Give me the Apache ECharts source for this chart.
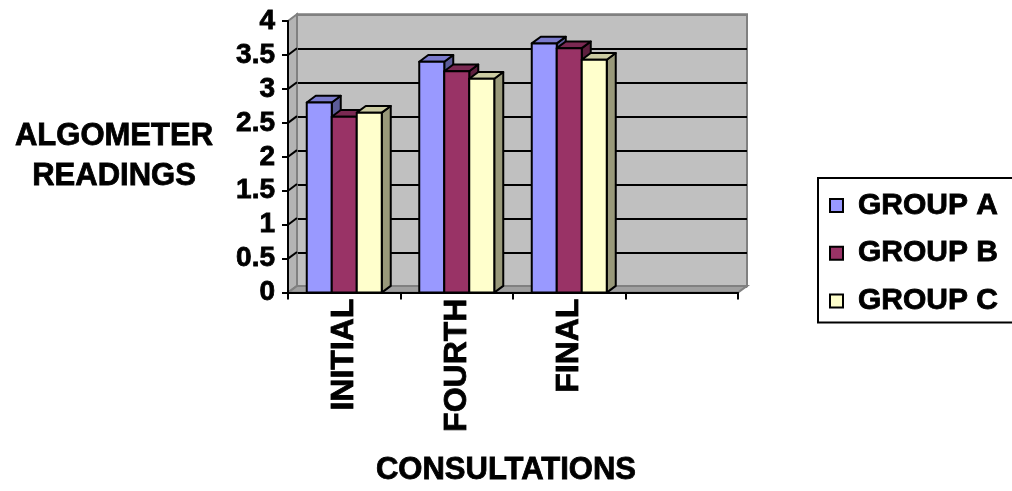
<!DOCTYPE html>
<html>
<head>
<meta charset="utf-8">
<script src="https://cdn.jsdelivr.net/npm/echarts@6/dist/echarts.min.js"></script>
<style>
  html, body { margin: 0; padding: 0; background: #ffffff; }
  #chart { width: 1012px; height: 491px; }
</style>
</head>
<body>
<div id="chart"></div>
<script>
// Consultation stages (the fourth slot on the axis is left empty)
const categories = ['INITIAL', 'FOURTH', 'FINAL', ''];
const seriesNames = ['GROUP A', 'GROUP B', 'GROUP C'];
const groupA = [2.80, 3.40, 3.67];
const groupB = [2.59, 3.26, 3.60];
const groupC = [2.65, 3.15, 3.43];
const yMin = 0;
const yMax = 4;
const yStep = 0.5;

const FONT = "'Liberation Sans', Arial, sans-serif";
const DX = 9, DY = -6.7;           // depth offset of the pseudo-3D walls and bars
const BAR_FRAC = 2 / 9;            // bar width as a share of the category band

// heavy black lettering used by every text element
const heavy = { fontWeight: 'bold', fontFamily: FONT, color: '#000',
  textBorderColor: '#000', textBorderWidth: 0.8 };

const faceColors = [
  { front: '#9999FF', top: '#7A7ACC', side: '#5C5C99' },
  { front: '#993366', top: '#7A2952', side: '#5C1F3D' },
  { front: '#FFFFCC', top: '#CCCCA3', side: '#99997A' }
];

function barRenderer(idx) {
  return function (params, api) {
    const c = api.value(0), v = api.value(1);
    const base = api.coord([c, 0]);
    const top = api.coord([c, v]);
    const band = api.size([1, 0])[0];
    const w = band * BAR_FRAC;
    const x0 = base[0] - 1.5 * w + idx * w;
    const x1 = x0 + w;
    const yT = top[1], yB = base[1];
    const col = faceColors[idx];
    const stroke = { stroke: '#000', lineWidth: 2, lineJoin: 'round' };
    return {
      type: 'group',
      children: [
        { type: 'polygon', shape: { points: [[x1, yT], [x1 + DX, yT + DY], [x1 + DX, yB + DY], [x1, yB]] },
          style: Object.assign({ fill: col.side }, stroke) },
        { type: 'polygon', shape: { points: [[x0, yT], [x0 + DX, yT + DY], [x1 + DX, yT + DY], [x1, yT]] },
          style: Object.assign({ fill: col.top }, stroke) },
        { type: 'rect', shape: { x: x0, y: yT, width: w, height: yB - yT },
          style: Object.assign({ fill: col.front }, stroke) }
      ]
    };
  };
}

// Side wall and floor joining the front axes to the back wall
function wallRenderer(params, api) {
  const cs = params.coordSys;
  const xL = cs.x, xR = cs.x + cs.width;
  const y0 = api.coord([0, yMin])[1];
  const y4 = api.coord([0, yMax])[1];
  const edge = { stroke: '#808080', lineWidth: 2 };
  const children = [
    { type: 'polygon', shape: { points: [[xL, y0], [xL, y4], [xL + DX, y4 + DY], [xL + DX, y0 + DY]] },
      style: Object.assign({ fill: '#B4B4B4' }, edge) },
    { type: 'polygon', shape: { points: [[xL, y0], [xR, y0], [xR + DX, y0 + DY], [xL + DX, y0 + DY]] },
      style: Object.assign({ fill: '#A0A0A0' }, edge) }
  ];
  for (let v = yMin + yStep; v < yMax - 1e-9; v += yStep) {
    const y = api.coord([0, v])[1];
    children.push({ type: 'line', shape: { x1: xL, y1: y, x2: xL + DX, y2: y + DY },
      style: { stroke: '#000', lineWidth: 2 } });
  }
  return { type: 'group', children: children };
}

const groups = [groupA, groupB, groupC];
const barSeries = groups.map((vals, i) => ({
  name: seriesNames[i],
  type: 'custom',
  xAxisIndex: 0,
  yAxisIndex: 0,
  z: 3,
  itemStyle: { color: faceColors[i].front },
  renderItem: barRenderer(i),
  data: vals.map((v, k) => [k, v])
}));

const backSplitColors = [];
for (let v = yMin; v <= yMax + 1e-9; v += yStep) {
  backSplitColors.push((v === yMin || Math.abs(v - yMax) < 1e-9) ? '#808080' : '#000000');
}

const option = {
  animation: false,
  color: faceColors.map(c => c.front),
  textStyle: { fontFamily: FONT, fontWeight: 'bold', color: '#000' },
  grid: [
    { left: 288, top: 21, width: 450, height: 272 },
    { left: 288 + DX, top: 21 + DY, width: 450, height: 272, show: true,
      backgroundColor: '#C0C0C0', borderColor: '#808080', borderWidth: 2 }
  ],
  xAxis: [
    {
      type: 'category', gridIndex: 0, data: categories, z: 10,
      boundaryGap: true,
      axisLine: { lineStyle: { color: '#000', width: 2 } },
      axisTick: { show: true, length: 7, lineStyle: { color: '#000', width: 2 } },
      axisLabel: Object.assign({ rotate: 90, margin: 6, interval: 0, fontSize: 32 }, heavy),
      name: 'CONSULTATIONS', nameLocation: 'middle', nameGap: 162,
      nameTextStyle: Object.assign({ fontSize: 31, padding: [0, 14, 0, 0] }, heavy)
    },
    { type: 'category', gridIndex: 1, data: categories, show: false }
  ],
  yAxis: [
    {
      type: 'value', gridIndex: 0, min: yMin, max: yMax, interval: yStep, z: 10,
      axisLine: { show: true, lineStyle: { color: '#000', width: 2 } },
      axisTick: { show: true, length: 6, lineStyle: { color: '#000', width: 2 } },
      splitLine: { show: false },
      axisLabel: Object.assign({ margin: 13, fontSize: 28 }, heavy),
      name: 'ALGOMETER\nREADINGS', nameLocation: 'middle', nameRotate: 0, nameGap: 174,
      nameTextStyle: Object.assign({ fontSize: 31, lineHeight: 40,
        align: 'center', verticalAlign: 'middle' }, heavy)
    },
    {
      type: 'value', gridIndex: 1, min: yMin, max: yMax, interval: yStep,
      axisLine: { show: false }, axisTick: { show: false }, axisLabel: { show: false },
      splitLine: { show: true, lineStyle: { color: backSplitColors, width: 2 } }
    }
  ],
  legend: {
    data: seriesNames,
    orient: 'vertical',
    left: 818, top: 178,
    padding: [12, 40, 6, 11],
    itemGap: 17,
    itemWidth: 13, itemHeight: 13,
    icon: 'rect',
    itemStyle: { borderColor: '#000', borderWidth: 2 },
    backgroundColor: '#FFFFFF',
    borderColor: '#000', borderWidth: 2, borderRadius: 0,
    textStyle: Object.assign({ fontSize: 30, lineHeight: 30, padding: [0, 0, 0, 10] }, heavy)
  },
  series: [
    {
      name: 'walls', type: 'custom', xAxisIndex: 0, yAxisIndex: 0, z: 1, silent: true,
      renderItem: wallRenderer, data: [[0, 0]]
    }
  ].concat(barSeries)
};

const chart = echarts.init(document.getElementById('chart'), null, { renderer: 'canvas' });
chart.setOption(option);
</script>
</body>
</html>
